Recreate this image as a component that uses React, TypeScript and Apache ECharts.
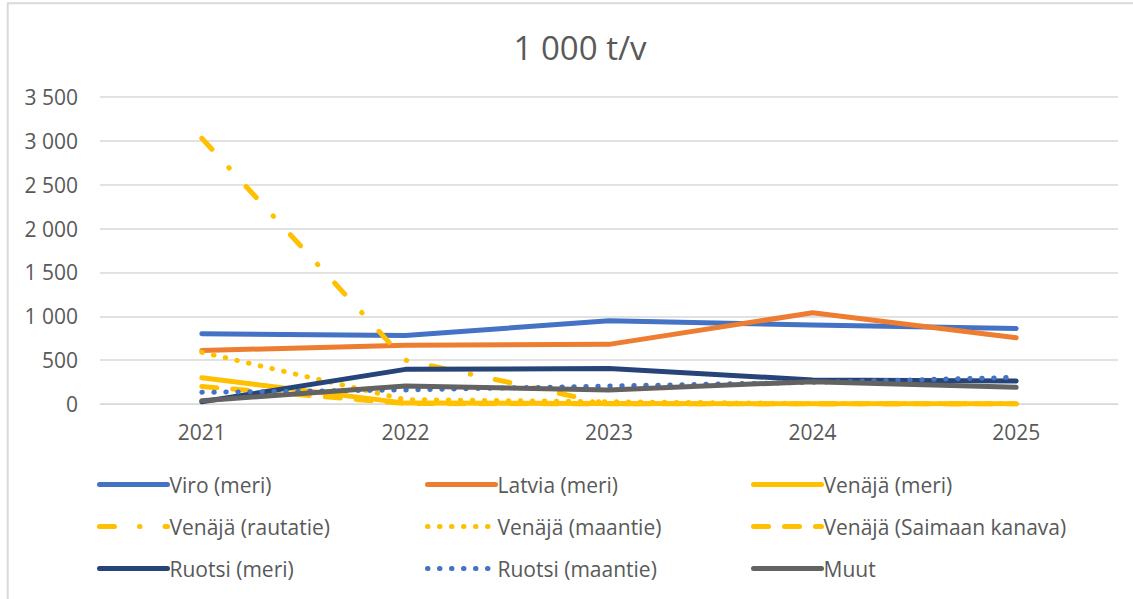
import React, { useEffect, useRef } from "react";
import * as echarts from "echarts";

const years = ["2021", "2022", "2023", "2024", "2025"];
const viroMeri = [800, 780, 950, 900, 860];
const latviaMeri = [610, 670, 680, 1040, 755];
const venajaMeri = [300, 10, 5, 3, 3];
const venajaRautatie = [3030, 500, 0, 0, 0];
const venajaMaantie = [590, 50, 25, 5, 5];
const venajaSaimaa = [200, 5, 0, 0, 0];
const ruotsiMeri = [25, 395, 405, 274, 262];
const ruotsiMaantie = [133, 160, 205, 247, 304];
const muut = [38, 205, 160, 255, 190];
const yTicks = { min: 0, max: 3500, interval: 500 };

const FONT = "'Open Sans', 'Noto Sans', sans-serif";
const TXT = "#595959";

export default function App() {
  const ref = useRef<HTMLDivElement>(null);
  useEffect(() => {
    document.body.style.margin = "0";
    const chart = echarts.init(ref.current!, null, { renderer: "svg" });
    const mk = (name: string, data: number[], color: string, dash?: number[]) => ({
      name,
      type: "line",
      data,
      symbol: "none",
      showSymbol: false,
      lineStyle: {
        color,
        width: 5,
        type: dash ? dash : "solid",
        cap: "round",
        join: "round",
      },
      itemStyle: { color },
    });
    const legendBase = {
      orient: "vertical",
      top: 474,
      padding: 0,
      itemWidth: 68,
      itemHeight: 14,
      itemGap: 21,
      itemStyle: { opacity: 0 },
      lineStyle: { width: 5, cap: "round" },
      textStyle: { fontFamily: FONT, fontSize: 21, color: TXT, lineHeight: 21, padding: [0, 0, 0, -3] },
    };
    chart.setOption({
      animation: false,
      backgroundColor: "#fff",
      title: {
        text: "1 000 t/v",
        left: 575,
        top: 26,
        textAlign: "center",
        textStyle: { fontFamily: FONT, fontSize: 33, fontWeight: "normal", color: TXT },
      },
      graphic: [
        {
          type: "rect",
          shape: { x: 7.7, y: 3.3, width: 1300, height: 800 },
          style: { fill: "none", stroke: "#d9d9d9", lineWidth: 2 },
        },
      ],
      grid: { left: 100, right: 15, top: 97, bottom: 195 },
      xAxis: {
        type: "category",
        data: years,
        boundaryGap: true,
        axisLine: { show: true, lineStyle: { color: "#d9d9d9", width: 1 } },
        axisTick: { show: false },
        axisLabel: { fontFamily: FONT, fontSize: 21, color: TXT, margin: 17 },
      },
      yAxis: {
        type: "value",
        min: yTicks.min,
        max: yTicks.max,
        interval: yTicks.interval,
        axisLine: { show: false },
        axisTick: { show: false },
        splitLine: { lineStyle: { color: "#d9d9d9", width: 1.5 } },
        axisLabel: {
          fontFamily: FONT,
          fontSize: 21,
          color: TXT,
          margin: 22,
          formatter: (v: number) => String(v).replace(/\B(?=(\d{3})+(?!\d))/g, " "),
        },
      },
      legend: [
        { ...legendBase, left: 97, data: ["Viro (meri)", "Venäjä (rautatie)", "Ruotsi (meri)"] },
        { ...legendBase, left: 425, data: ["Latvia (meri)", "Venäjä (maantie)", "Ruotsi (maantie)"] },
        { ...legendBase, left: 751, data: ["Venäjä (meri)", "Venäjä (Saimaan kanava)", "Muut"] },
      ],
      series: [
        mk("Viro (meri)", viroMeri, "#4472C4"),
        mk("Latvia (meri)", latviaMeri, "#ED7D31"),
        mk("Venäjä (meri)", venajaMeri, "#FFC000"),
        mk("Venäjä (rautatie)", venajaRautatie, "#FFC000", [15, 25, 0.5, 25]),
        mk("Venäjä (maantie)", venajaMaantie, "#FFC000", [0.5, 11.5]),
        mk("Venäjä (Saimaan kanava)", venajaSaimaa, "#FFC000", [15, 16]),
        mk("Ruotsi (meri)", ruotsiMeri, "#264478"),
        mk("Ruotsi (maantie)", ruotsiMaantie, "#4472C4", [0.5, 11.5]),
        mk("Muut", muut, "#636363"),
      ],
    });
    return () => chart.dispose();
  }, []);
  return <div ref={ref} style={{ width: 1133, height: 599 }} />;
}
